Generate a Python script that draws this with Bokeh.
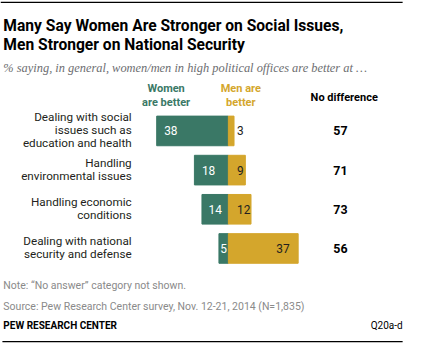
from bokeh.plotting import figure
from bokeh.models import Range1d, ColumnDataSource, Label
from bokeh.embed import file_html
from bokeh.resources import INLINE

# ---- data ----
categories = [
    ["Dealing with social", "issues such as", "education and health"],
    ["Handling", "environmental issues"],
    ["Handling economic", "conditions"],
    ["Dealing with national", "security and defense"],
]
women_better = [38, 18, 14, 5]
men_better = [3, 9, 12, 37]
no_difference = [57, 71, 73, 56]

title_lines = ["Many Say Women Are Stronger on Social Issues,",
               "Men Stronger on National Security"]
subtitle = "% saying, in general, women/men in high political offices are better at \u2026"
note = "Note: \u201cNo answer\u201d category not shown."
source = "Source: Pew Research Center survey, Nov. 12-21, 2014 (N=1,835)"
brand = "PEW RESEARCH CENTER"
qcode = "Q20a-d"

GREEN = "#3a7866"
GOLD = "#d4a62c"
GREY = "#8a8a8a"

# ---- layout (reference pixel space -> data space) ----
W, H = 405, 344
S = H / 360.0
ZERO_PX, PX_PER_UNIT = 238.0, 1.97
ROW0_PX, ROW_PX = 136.5, 41.0

def X(px):
    return (px - ZERO_PX) / PX_PER_UNIT

def Y(py):
    return (py - ROW0_PX) / ROW_PX

def fs(px):
    return "%.1fpx" % (px * S)

p = figure(width=W, height=H, frame_width=W, frame_height=H,
           x_range=Range1d(X(0), X(423)), y_range=Range1d(Y(360), Y(0)),
           x_axis_location=None, y_axis_location=None,
           toolbar_location=None, output_backend="svg", min_border=0)
p.grid.visible = False
p.outline_line_color = None
p.background_fill_color = "white"
p.border_fill_color = "white"

rows = list(range(len(women_better)))
BAR_H = 31.0 / ROW_PX

src = ColumnDataSource(dict(
    y=rows,
    w_left=[-v for v in women_better], zero=[0] * len(rows),
    m_right=men_better,
))
p.hbar(y="y", left="w_left", right="zero", height=BAR_H, color=GREEN, source=src)
p.hbar(y="y", left="zero", right="m_right", height=BAR_H, color=GOLD, source=src)

SANS = "Roboto"
BODY = "#231f20"

# value labels
wx = [min(-v + 7.5, -v / 2.0) for v in women_better]
p.text(x=wx, y=rows, text=[str(v) for v in women_better], text_color="white",
       text_align="center", text_baseline="middle", text_font=dict(value=SANS),
       text_font_size=fs(12.5))
for r, v in zip(rows, men_better):
    if v < 20:
        p.text(x=[4.6], y=[r], text=[str(v)], text_color=BODY, text_align="left",
               text_baseline="middle", text_font=dict(value=SANS), text_font_size=fs(12.5))
    else:
        p.text(x=[v - 4.5], y=[r], text=[str(v)], text_color=BODY, text_align="right",
               text_baseline="middle", text_font=dict(value=SANS), text_font_size=fs(12.5))

# no difference column
p.text(x=[X(355)] * len(rows), y=rows, text=[str(v) for v in no_difference],
       text_color="black", text_align="center", text_baseline="middle",
       text_font=dict(value=SANS), text_font_style="bold", text_font_size=fs(13))

# category labels
for r, lines in zip(rows, categories):
    n = len(lines)
    step = 13.5 / ROW_PX
    for k, line in enumerate(lines):
        yy = r + (k - (n - 1) / 2.0) * step - 1.0 / ROW_PX
        p.text(x=[X(137)], y=[yy], text=[line], text_color=BODY, text_align="right",
               text_baseline="middle", text_font=dict(value=SANS), text_font_size=fs(12.2))

def lab(txt, px, py, size, color="black", bold=False, italic=False, align="left",
        font=SANS, baseline="alphabetic"):
    style = "bold italic" if (bold and italic) else ("bold" if bold else ("italic" if italic else "normal"))
    p.add_layout(Label(x=X(px), y=Y(py), text=txt, text_font=font, text_font_size=fs(size),
                       text_color=color, text_font_style=style, text_align=align,
                       text_baseline=baseline))

# headers
lab("Women", 173, 92, 11.5, color=GREEN, bold=True, align="center")
lab("are better", 173, 107, 11.5, color=GREEN, bold=True, align="center")
lab("Men are", 251, 92, 11.5, color=GOLD, bold=True, align="center")
lab("better", 251, 107, 11.5, color=GOLD, bold=True, align="center")
lab("No difference", 359, 101, 11.5, color="black", bold=True, align="center")

# title etc
lab(title_lines[0], 3, 27, 16.3, color="black", bold=True)
lab(title_lines[1], 3, 47, 16.3, color="black", bold=True)
lab(subtitle, 3, 71, 13, color="#6d6e71", italic=True, font="Liberation Serif")
lab(note, 3, 298, 11, color=GREY)
lab(source, 3, 320, 11, color=GREY)
lab(brand, 3, 340, 10.5, color="black", bold=True)
lab(qcode, 420, 340, 10.5, color="black", align="right")

# rules
p.segment(x0=[X(0), X(2)], y0=[Y(2), Y(357)], x1=[X(420), X(420)], y1=[Y(2), Y(357)],
          line_color="black", line_width=1.3)

open("out.html", "w").write(file_html(p, INLINE))
